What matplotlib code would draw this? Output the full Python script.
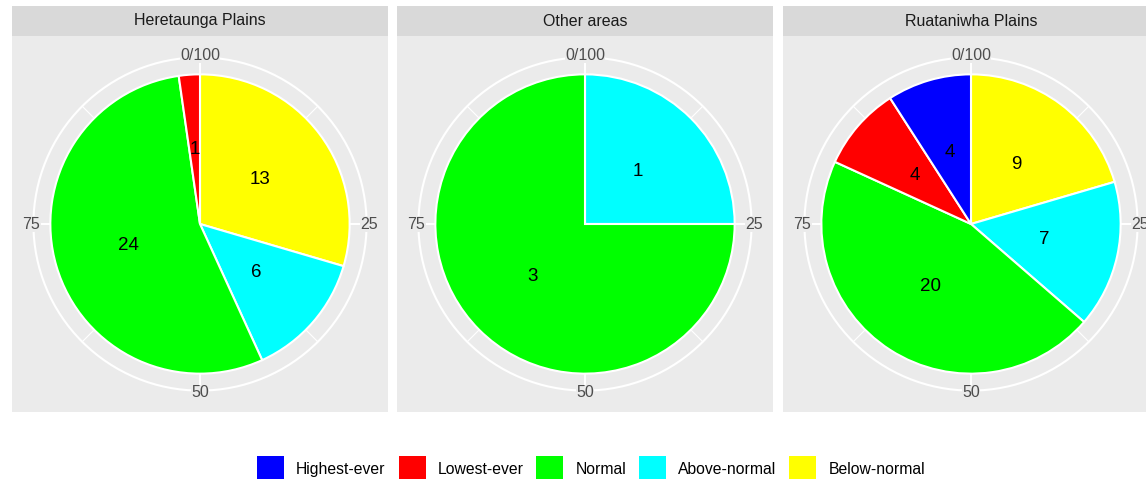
import numpy as np
import matplotlib.pyplot as plt
from matplotlib.patches import Patch, Circle

plt.rcParams['font.family'] = ['Liberation Sans', 'DejaVu Sans']

# data
categories = ["Highest-ever", "Lowest-ever", "Normal", "Above-normal", "Below-normal"]
cat_colors = ["#0000FF", "#FF0000", "#00FF00", "#00FFFF", "#FFFF00"]
facets = ["Heretaunga Plains", "Other areas", "Ruataniwha Plains"]
heretaunga = [0, 1, 24, 6, 13]
other_areas = [0, 0, 3, 1, 0]
ruataniwha = [4, 4, 20, 7, 9]
theta_breaks = [0, 25, 50, 75]
theta_labels = ["0/100", "25", "50", "75"]

W, H = 1146, 479
fig = plt.figure(figsize=(W / 100, H / 100), dpi=100)

R_PIE = 0.398   # pie radius (panel units)
R_OUT = 0.443   # outer grid circle
R_LAB = 0.449   # theta labels
PANEL_BG = "#EBEBEB"

panel_left = [12, 397, 783]
panel_top, panel_size, strip_h = 36, 376, 30


def ang(t):
    # theta value (0-100) -> angle in radians, clockwise from top
    return np.deg2rad(90 - t * 3.6)


def draw_panel(ax, counts):
    ax.set_facecolor(PANEL_BG)
    # grid: minor and major spokes, outer circle
    for t in np.arange(12.5, 100, 25):
        ax.plot([0, R_OUT * np.cos(ang(t))], [0, R_OUT * np.sin(ang(t))],
                color="white", lw=0.8, zorder=0.5)
    for t in theta_breaks:
        ax.plot([0, R_OUT * np.cos(ang(t))], [0, R_OUT * np.sin(ang(t))],
                color="white", lw=1.5, zorder=0.5)
    ax.add_patch(Circle((0, 0), R_OUT, fill=False, ec="white", lw=1.5, zorder=0.5))

    # clockwise from top: reverse of legend order
    vals = [v for v in counts[::-1] if v > 0]
    cols = [c for v, c in zip(counts[::-1], cat_colors[::-1]) if v > 0]
    total = sum(vals)
    ax.pie(vals, colors=cols, startangle=90, counterclock=False, radius=R_PIE,
           autopct=lambda p: "%d" % round(p * total / 100), pctdistance=0.5,
           wedgeprops=dict(edgecolor="white", linewidth=1.5),
           textprops=dict(fontsize=13.5, color="black"), frame=True)

    for t, lab in zip(theta_breaks, theta_labels):
        ax.text(R_LAB * np.cos(ang(t)), R_LAB * np.sin(ang(t)), lab,
                ha="center", va="center", fontsize=11.5, color="#4D4D4D", zorder=3,
                bbox=dict(facecolor=PANEL_BG, edgecolor="none", pad=0.3))

    ax.set_xlim(-0.5, 0.5)
    ax.set_ylim(-0.5, 0.5)
    ax.set_aspect("equal")
    ax.set_xticks([])
    ax.set_yticks([])
    for s in ax.spines.values():
        s.set_visible(False)


for left, name, counts in zip(panel_left, facets, [heretaunga, other_areas, ruataniwha]):
    ax = fig.add_axes([left / W, (H - panel_top - panel_size) / H, panel_size / W, panel_size / H])
    draw_panel(ax, counts)
    sax = fig.add_axes([left / W, (H - panel_top) / H, panel_size / W, strip_h / H])
    sax.set_facecolor("#D9D9D9")
    sax.set_xticks([])
    sax.set_yticks([])
    for s in sax.spines.values():
        s.set_visible(False)
    sax.text(0.5, 0.5, name, ha="center", va="center", fontsize=11.5,
             color="#1A1A1A", transform=sax.transAxes)

handles = [Patch(facecolor=c, edgecolor="none", label=n) for n, c in zip(categories, cat_colors)]
fig.legend(handles=handles, loc="center", bbox_to_anchor=(591 / W, 9.5 / H), ncol=5,
           frameon=False, fontsize=11.3, handlelength=1.72, handleheight=2.27,
           handletextpad=0.76, columnspacing=0.83, borderpad=0, borderaxespad=0)

fig.savefig("out.png", dpi=100)
